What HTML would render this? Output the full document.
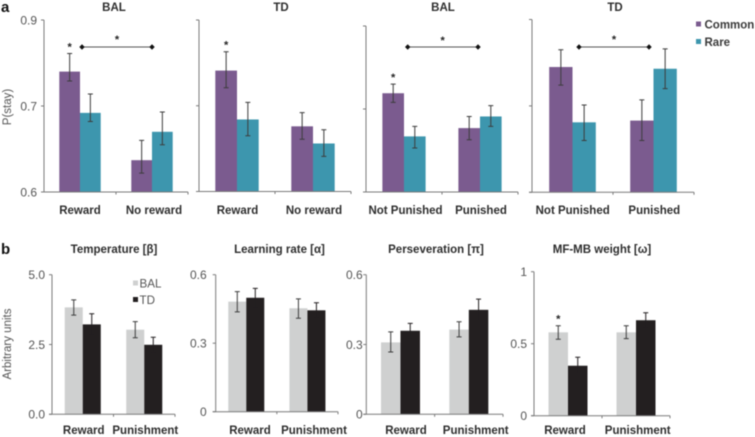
<!DOCTYPE html>
<html lang="en">
<head>
<meta charset="utf-8">
<title>P(stay) and model parameters</title>
<style>
html,body{margin:0;padding:0;background:#fff;}
body{width:755px;height:437px;overflow:hidden;}
svg{display:block;filter:blur(0.45px);font-family:"Liberation Sans",Arial,sans-serif;}
.title,.cat{font-weight:bold;font-size:11.5px;fill:#2e2e2e;text-anchor:middle;}
.tick{font-size:12px;fill:#555;text-anchor:end;}
.ytitle{font-size:11.5px;fill:#555;text-anchor:middle;}
.leg{font-weight:bold;font-size:11.5px;fill:#3a3a3a;}
.leg2{font-size:11.6px;fill:#555;}
.plabel{font-weight:bold;font-size:15px;fill:#111;}
.star{font-size:11px;font-weight:bold;fill:#222;text-anchor:middle;}
</style>
</head>
<body>
<svg id="fig" width="755" height="437" viewBox="0 0 755 437" xmlns="http://www.w3.org/2000/svg">
  <text class="plabel" x="1" y="12">a</text>
  <text class="plabel" x="1" y="254">b</text>

  <text class="title" x="114" y="11">BAL</text>
  <text class="title" x="281" y="11">TD</text>
  <text class="title" x="443" y="11">BAL</text>
  <text class="title" x="615" y="11">TD</text>

  <text class="title" x="114" y="253">Temperature [β]</text>
  <text class="title" x="279.5" y="253">Learning rate [α]</text>
  <text class="title" x="436" y="253">Perseveration [π]</text>
  <text class="title" x="602" y="253">MF-MB weight [ω]</text>

  <text class="ytitle" transform="translate(11,107) rotate(-90)">P(stay)</text>
  <text class="ytitle" transform="translate(11,344) rotate(-90)">Arbitrary units</text>

  <g>
    <rect x="696" y="21.5" width="5" height="5" fill="#7b5b8f"/>
    <text class="leg" x="704.5" y="28.5">Common</text>
  </g>
  <g>
    <rect x="696" y="39" width="5" height="5" fill="#3d96ae"/>
    <text class="leg" x="704.5" y="46">Rare</text>
  </g>
  <g>
    <rect x="133" y="280.5" width="5" height="5" fill="#cfd0d0"/>
    <text class="leg2" x="139.5" y="287.5">BAL</text>
  </g>
  <g>
    <rect x="133" y="297" width="5" height="5" fill="#231f20"/>
    <text class="leg2" x="139.5" y="304">TD</text>
  </g>
</svg>
<script>
// ---- Panel a data ----
const a1Categories = ['Reward', 'No reward'];
const a1Common = [0.740, 0.637];
const a1CommonUp = [0.021, 0.023];
const a1CommonDown = [0.011, 0.015];
const a1Rare = [0.692, 0.670];
const a1RareUp = [0.022, 0.023];
const a1RareDown = [0.010, 0.015];

const a2Categories = ['Reward', 'No reward'];
const a2Common = [0.741, 0.676];
const a2CommonUp = [0.022, 0.016];
const a2CommonDown = [0.020, 0.015];
const a2Rare = [0.684, 0.656];
const a2RareUp = [0.020, 0.016];
const a2RareDown = [0.019, 0.015];

const a3Categories = ['Not Punished', 'Punished'];
const a3Common = [0.719, 0.677];
const a3CommonUp = [0.011, 0.014];
const a3CommonDown = [0.011, 0.014];
const a3Rare = [0.667, 0.691];
const a3RareUp = [0.012, 0.013];
const a3RareDown = [0.014, 0.012];

const a4Categories = ['Not Punished', 'Punished'];
const a4Common = [0.745, 0.683];
const a4CommonUp = [0.020, 0.024];
const a4CommonDown = [0.021, 0.023];
const a4Rare = [0.681, 0.743];
const a4RareUp = [0.020, 0.023];
const a4RareDown = [0.021, 0.023];

const aTickValues = [0.6, 0.7, 0.8];
const aTickLabels = ['0.6', '0.7', '0.9'];

// ---- Panel b data ----
const bCategories = ['Reward', 'Punishment'];

const b1Bal = [3.83, 3.03];
const b1BalUp = [0.27, 0.29];
const b1BalDown = [0.28, 0.29];
const b1Td = [3.22, 2.49];
const b1TdUp = [0.38, 0.27];
const b1TdDown = [0.37, 0.27];
const b1TickValues = [0, 2.5, 5];
const b1TickLabels = ['0.0', '2.5', '5.0'];

const b2Bal = [0.482, 0.453];
const b2BalUp = [0.044, 0.041];
const b2BalDown = [0.045, 0.044];
const b2Td = [0.499, 0.444];
const b2TdUp = [0.041, 0.033];
const b2TdDown = [0.041, 0.033];
const b2TickValues = [0, 0.3, 0.6];
const b2TickLabels = ['0', '0.3', '0.6'];

const b3Bal = [0.309, 0.364];
const b3BalUp = [0.045, 0.034];
const b3BalDown = [0.041, 0.031];
const b3Td = [0.359, 0.449];
const b3TdUp = [0.032, 0.046];
const b3TdDown = [0.032, 0.046];
const b3TickValues = [0, 0.3, 0.6];
const b3TickLabels = ['0', '0.3', '0.6'];

const b4Bal = [0.579, 0.579];
const b4BalUp = [0.046, 0.046];
const b4BalDown = [0.048, 0.044];
const b4Td = [0.347, 0.663];
const b4TdUp = [0.059, 0.052];
const b4TdDown = [0.057, 0.053];
const b4TickValues = [0, 0.5, 1];
const b4TickLabels = ['0', '0.5', '1'];

const PURPLE = '#7b5b8f', TEAL = '#3d96ae', LIGHT = '#cfd0d0', DARK = '#231f20';

const panels = [
  {id:'a1', x0:44, x1:188, top:20, bottom:192, dom:[0.6,0.8], ticks:aTickValues, labels:aTickLabels, gap:7, bw:20.7,
   cats:a1Categories, catX:[80,154], catY:214,
   s:[{n:'common',c:PURPLE,v:a1Common,u:a1CommonUp,d:a1CommonDown},{n:'rare',c:TEAL,v:a1Rare,u:a1RareUp,d:a1RareDown}],
   star:[0], bracket:[82,152,47,117,43]},
  {id:'a2', x0:199, x1:351, top:20, bottom:191.5, dom:[0.6,0.8], ticks:aTickValues, labels:null, gap:7, bw:21.7,
   cats:a2Categories, catX:[237.5,314], catY:214,
   s:[{n:'common',c:PURPLE,v:a2Common,u:a2CommonUp,d:a2CommonDown},{n:'rare',c:TEAL,v:a2Rare,u:a2RareUp,d:a2RareDown}],
   star:[0]},
  {id:'a3', x0:366, x1:518, top:26, bottom:192, dom:[0.6,0.8], ticks:aTickValues, labels:null, gap:7, bw:21.6,
   cats:a3Categories, catX:[405.5,481], catY:214,
   s:[{n:'common',c:PURPLE,v:a3Common,u:a3CommonUp,d:a3CommonDown},{n:'rare',c:TEAL,v:a3Rare,u:a3RareUp,d:a3RareDown}],
   star:[0], bracket:[407.7,478,47,442.7,44]},
  {id:'a4', x0:532, x1:694, top:19.5, bottom:192.3, dom:[0.6,0.8], ticks:aTickValues, labels:null, gap:7, bw:23.3,
   cats:a4Categories, catX:[572.7,654.3], catY:214,
   s:[{n:'common',c:PURPLE,v:a4Common,u:a4CommonUp,d:a4CommonDown},{n:'rare',c:TEAL,v:a4Rare,u:a4RareUp,d:a4RareDown}],
   star:[], bracket:[579,649,47,614,43]},
  {id:'b1', x0:52, x1:175, top:274.7, bottom:414.3, dom:[0,5], ticks:b1TickValues, labels:b1TickLabels, gap:7, bw:18,
   cats:bCategories, catX:[83.7,145.3], catY:434,
   s:[{n:'bal',c:LIGHT,v:b1Bal,u:b1BalUp,d:b1BalDown},{n:'td',c:DARK,v:b1Td,u:b1TdUp,d:b1TdDown}], star:[]},
  {id:'b2', x0:215.7, x1:338, top:274.7, bottom:411.7, dom:[0,0.6], ticks:b2TickValues, labels:b2TickLabels, gap:9, bw:18,
   cats:bCategories, catX:[250,314], catY:434,
   s:[{n:'bal',c:LIGHT,v:b2Bal,u:b2BalUp,d:b2BalDown},{n:'td',c:DARK,v:b2Td,u:b2TdUp,d:b2TdDown}], star:[]},
  {id:'b3', x0:366.3, x1:503, top:274.7, bottom:414.3, dom:[0,0.6], ticks:b3TickValues, labels:b3TickLabels, gap:3.6, bw:19.5,
   cats:bCategories, catX:[406,475.7], catY:434,
   s:[{n:'bal',c:LIGHT,v:b3Bal,u:b3BalUp,d:b3BalDown},{n:'td',c:DARK,v:b3Td,u:b3TdUp,d:b3TdDown}], star:[]},
  {id:'b4', x0:534, x1:670, top:271.7, bottom:415.7, dom:[0,1], ticks:b4TickValues, labels:b4TickLabels, gap:7, bw:19.5,
   cats:bCategories, catX:[565,637.7], catY:434,
   s:[{n:'bal',c:LIGHT,v:b4Bal,u:b4BalUp,d:b4BalDown},{n:'td',c:DARK,v:b4Td,u:b4TdUp,d:b4TdDown}], star:[0]}
];

const svg = document.getElementById('fig');
const NS = 'http://www.w3.org/2000/svg';
function make(parent, tag, attrs, text) {
  const el = document.createElementNS(NS, tag);
  for (const k in attrs) el.setAttribute(k, attrs[k]);
  if (text !== undefined) el.textContent = text;
  parent.appendChild(el);
  return el;
}

panels.forEach(function (p) {
  const g = make(svg, 'g', {});
  
  

  const y = function (v) { return p.bottom - (v - p.dom[0]) / (p.dom[1] - p.dom[0]) * (p.bottom - p.top); };
  const band = (p.x1 - p.x0) / p.cats.length;
  const xc = function (i) { return p.x0 + band * (i + 0.5); };

  // bars
  p.s.forEach(function (s, si) {
    s.v.forEach(function (v, i) {
      const bx = xc(i) + (si === 0 ? -p.bw : 0);
      const bar = make(g, 'rect', {x: bx, y: y(v), width: p.bw, height: p.bottom - y(v), fill: s.c});
      
      
    });
  });

  // error bars
  p.s.forEach(function (s, si) {
    s.v.forEach(function (v, i) {
      const ex = xc(i) + (si === 0 ? -p.bw / 2 : p.bw / 2);
      const yHi = y(v + s.u[i]), yLo = y(v - s.d[i]);
      const eb = make(g, 'path', {
        d: 'M' + ex + ' ' + yHi + 'V' + yLo + 'M' + (ex - 2.5) + ' ' + yHi + 'H' + (ex + 2.5) + 'M' + (ex - 2.5) + ' ' + yLo + 'H' + (ex + 2.5),
        stroke: s.c === DARK ? DARK : '#3c3c3c', 'stroke-width': 1, fill: 'none'
      });
      
      
      if (si === 0 && p.star.indexOf(i) >= 0) {
        const st = make(g, 'text', {class: 'star', x: ex, y: yHi - 3}, '*');
        
        
      }
    });
  });

  // y axis
  const yAxis = make(g, 'line', {x1: p.x0, x2: p.x0, y1: p.top, y2: p.bottom, stroke: '#7a7a7a', 'stroke-width': 1});
  
  
  p.ticks.forEach(function (t, i) {
    const tk = make(g, 'line', {x1: p.x0 - 3, x2: p.x0, y1: y(t), y2: y(t), stroke: '#7a7a7a', 'stroke-width': 1});
    
    
    if (p.labels) {
      const lb = make(g, 'text', {class: 'tick', x: p.x0 - p.gap, y: y(t) + 4.3}, p.labels[i]);
      
      
    }
  });

  // x axis
  const xAxis = make(g, 'line', {x1: p.x0 - 3, x2: p.x1, y1: p.bottom, y2: p.bottom, stroke: '#7a7a7a', 'stroke-width': 1});
  
  
  [p.x0 + band, p.x1].forEach(function (tx, i) {
    const tk = make(g, 'line', {x1: tx, x2: tx, y1: p.bottom, y2: p.bottom + 2.5, stroke: '#7a7a7a', 'stroke-width': 1});
    
    
  });
  p.cats.forEach(function (c, i) {
    const lb = make(g, 'text', {class: 'cat', x: p.catX[i], y: p.catY}, c);
    
    
  });

  // significance bracket
  if (p.bracket) {
    const b = p.bracket;
    const br = make(g, 'g', {});
    
    
    make(br, 'line', {x1: b[0], x2: b[1], y1: b[2], y2: b[2], stroke: '#555', 'stroke-width': 1});
    [b[0], b[1]].forEach(function (mx) {
      make(br, 'path', {d: 'M' + (mx - 2.7) + ' ' + b[2] + 'L' + mx + ' ' + (b[2] - 2.7) + 'L' + (mx + 2.7) + ' ' + b[2] + 'L' + mx + ' ' + (b[2] + 2.7) + 'Z', fill: '#111'});
    });
    const st = make(br, 'text', {class: 'star', x: b[3], y: b[4]}, '*');
    
    
  }
});
</script>
</body>
</html>
